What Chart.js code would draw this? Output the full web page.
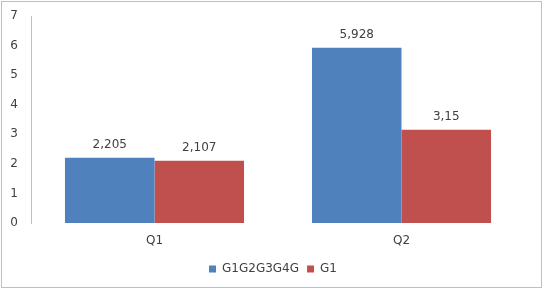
<!DOCTYPE html>
<html>
<head>
<meta charset="utf-8">
<script src="https://cdn.jsdelivr.net/npm/chart.js@4/dist/chart.umd.min.js"></script>
<style>
  body { margin: 0; background: #fff; }
  #wrap { width: 546px; height: 289px; position: relative; }
</style>
</head>
<body>
<div id="wrap"><canvas id="chart" width="546" height="289"></canvas></div>
<script>
// chart values
var categories = ['Q1', 'Q2'];
var seriesNames = ['G1G2G3G4G', 'G1'];
var seriesA = [2.205, 5.928];
var seriesB = [2.107, 3.15];
var yTicks = [0, 1, 2, 3, 4, 5, 6, 7];

var textColor = '#404040';
var fontFamily = '"DejaVu Sans", sans-serif';

// value labels above bars, decimal comma
var valueLabels = {
  id: 'valueLabels',
  afterDatasetsDraw: function(chart) {
    var ctx = chart.ctx;
    ctx.save();
    ctx.font = '12px ' + fontFamily;
    ctx.fillStyle = textColor;
    ctx.textAlign = 'center';
    ctx.textBaseline = 'middle';
    chart.data.datasets.forEach(function(ds, i) {
      chart.getDatasetMeta(i).data.forEach(function(bar, j) {
        ctx.fillText(String(ds.data[j]).replace('.', ','), bar.x, bar.y - 13);
      });
    });
    ctx.restore();
  }
};

// outer frame
var frame = {
  id: 'frame',
  beforeDraw: function(chart) {
    var ctx = chart.ctx;
    ctx.save();
    ctx.fillStyle = '#fff';
    ctx.fillRect(0, 0, chart.width, chart.height);
    ctx.strokeStyle = '#bfbfbf';
    ctx.lineWidth = 1;
    ctx.strokeRect(1.5, 1.5, 540, 286);
    ctx.restore();
  }
};

new Chart(document.getElementById('chart').getContext('2d'), {
  type: 'bar',
  data: {
    labels: categories,
    datasets: [
      { label: seriesNames[0], data: seriesA, backgroundColor: '#4F81BD' },
      { label: seriesNames[1], data: seriesB, backgroundColor: '#C0504D' }
    ]
  },
  options: {
    responsive: false,
    animation: false,
    layout: { padding: { top: 16, right: 0, bottom: 4, left: 0 } },
    datasets: { bar: { barPercentage: 1, categoryPercentage: 0.725 } },
    plugins: {
      legend: {
        position: 'bottom',
        labels: {
          boxWidth: 7, boxHeight: 7, padding: 8,
          color: textColor,
          font: { family: fontFamily, size: 12 }
        }
      },
      tooltip: { enabled: false }
    },
    scales: {
      x: {
        afterFit: function(scale) { scale.height = 32; },
        grid: { display: false },
        border: { display: false },
        ticks: { color: textColor, padding: 3, font: { family: fontFamily, size: 12 } }
      },
      y: {
        min: 0, max: 7,
        afterFit: function(scale) { scale.width = 31; },
        afterBuildTicks: function(scale) {
          scale.ticks = yTicks.map(function(v) { return { value: v }; });
        },
        grid: { display: false },
        border: { display: true, color: '#bfbfbf' },
        ticks: { color: textColor, padding: 5, font: { family: fontFamily, size: 12 } }
      },
      // empty right strip so the legend stays centred on the canvas
      yRight: {
        position: 'right',
        min: 0, max: 7,
        afterFit: function(scale) { scale.width = 21; },
        grid: { display: false },
        border: { display: false },
        ticks: { display: false }
      }
    }
  },
  plugins: [frame, valueLabels]
});
</script>
</body>
</html>
